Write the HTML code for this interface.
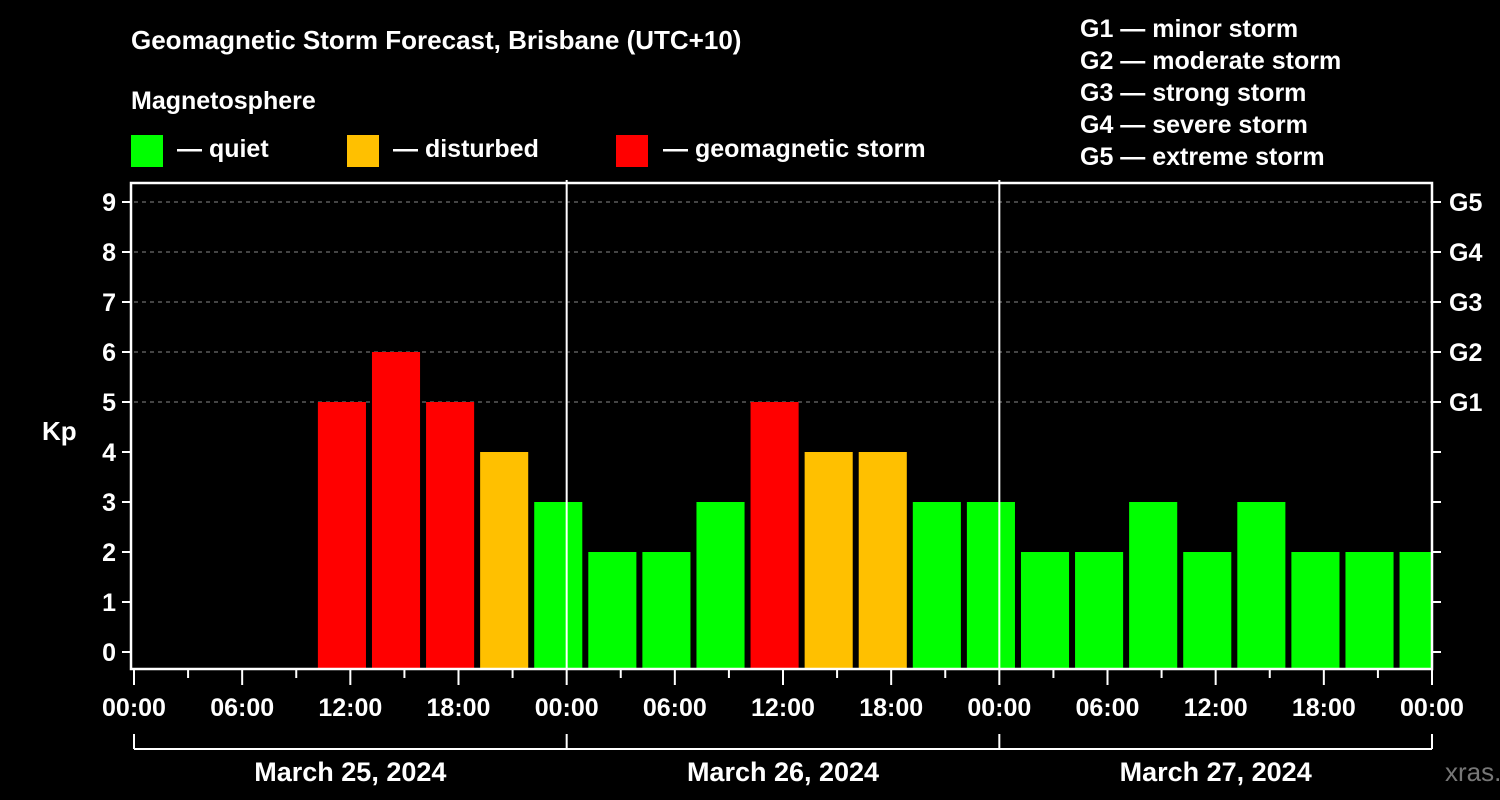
<!DOCTYPE html>
<html><head><meta charset="utf-8"><style>
body{margin:0;background:#000;width:1500px;height:800px;overflow:hidden}
svg{display:block;font-family:"Liberation Sans",Arial,sans-serif;font-weight:bold}
</style></head><body>
<svg id="c" width="1500" height="800" viewBox="0 0 1500 800">
<rect width="1500" height="800" fill="#000"/>
<text x="131" y="49" font-size="26" fill="#fff">Geomagnetic Storm Forecast, Brisbane (UTC+10)</text>
<text x="131" y="109" font-size="25" fill="#fff">Magnetosphere</text>
<g><rect x="131" y="135" width="32" height="32" fill="#00ff00"/><text x="177" y="157" font-size="25" fill="#fff">— quiet</text></g>
<g><rect x="347" y="135" width="32" height="32" fill="#ffc000"/><text x="393" y="157" font-size="25" fill="#fff">— disturbed</text></g>
<g><rect x="616" y="135" width="32" height="32" fill="#ff0000"/><text x="663" y="157" font-size="25" fill="#fff">— geomagnetic storm</text></g>
<g font-size="25" fill="#fff">
<text x="1080" y="37">G1 — minor storm</text>
<text x="1080" y="69">G2 — moderate storm</text>
<text x="1080" y="101">G3 — strong storm</text>
<text x="1080" y="133">G4 — severe storm</text>
<text x="1080" y="165">G5 — extreme storm</text>
</g>
<text x="42" y="440" font-size="26" fill="#fff">Kp</text>
<g id="grid"></g><g id="bars"></g><g id="axes"></g>
<text x="1445" y="781" font-size="26" fill="#777" font-weight="normal">xras.ru</text>
</svg>
<script>
const kpValues=[5,6,5,4,3,2,2,3,5,4,4,3,3,2,2,3,2,3,2,2,2];
const firstBarHour=10.2;
const yTicks=[0,1,2,3,4,5,6,7,8,9];
const gLabels=["G1","G2","G3","G4","G5"];
const xTickLabels=["00:00","06:00","12:00","18:00"];
const dayLabels=["March 25, 2024","March 26, 2024","March 27, 2024"];
const NS="http://www.w3.org/2000/svg";
const X0=134,X1=1432,T=183,B=669,totalH=72;
const xs=h=>X0+h*(X1-X0)/totalH;
const ys=v=>652-v*50;
function mk(p,tag,a){const e=document.createElementNS(NS,tag);for(const k in a)e.setAttribute(k,a[k]);p.appendChild(e);return e;}
const grid=document.getElementById('grid'),bars=document.getElementById('bars'),axes=document.getElementById('axes');
[5,6,7,8,9].forEach(v=>{const l=mk(grid,'line',{x1:X0,x2:X1,y1:ys(v),y2:ys(v),stroke:'#888','stroke-dasharray':'4,4','stroke-width':1});

});
const bw=(X1-X0)/24;
kpValues.forEach((v,i)=>{const h=firstBarHour+3*i;const x=xs(h);const w=Math.min(bw-6,X1-x);
const col=v>=5?'#ff0000':(v>=4?'#ffc000':'#00ff00');
const r=mk(bars,'rect',{x:x,y:ys(v),width:w,height:B-ys(v),fill:col});

});
[24,48].forEach(h=>{const l=mk(axes,'line',{x1:xs(h),x2:xs(h),y1:T-3,y2:B,stroke:'#fff','stroke-width':2});

});
const fr=mk(axes,'rect',{x:131,y:T,width:X1-131,height:B-T,fill:'none',stroke:'#fff','stroke-width':2.5});


yTicks.forEach(v=>{mk(axes,'line',{x1:122,x2:131,y1:ys(v),y2:ys(v),stroke:'#fff','stroke-width':2});
mk(axes,'line',{x1:X1,x2:X1+9,y1:ys(v),y2:ys(v),stroke:'#fff','stroke-width':2});
const t=mk(axes,'text',{x:116,y:ys(v)+9,'font-size':25,fill:'#fff','text-anchor':'end'});t.textContent=v;

});
gLabels.forEach((g,i)=>{const t=mk(axes,'text',{x:1449,y:ys(5+i)+9,'font-size':25,fill:'#fff'});t.textContent=g;

});
for(let h=0;h<=72;h+=3){const major=h%6===0;
mk(axes,'line',{x1:xs(h),x2:xs(h),y1:B,y2:major?685:678,stroke:'#fff','stroke-width':2});
if(major){const t=mk(axes,'text',{x:xs(h),y:716,'font-size':25,fill:'#fff','text-anchor':'middle'});t.textContent=xTickLabels[(h%24)/6];

}}
mk(axes,'line',{x1:xs(0),x2:xs(72),y1:749,y2:749,stroke:'#fff','stroke-width':2});
[0,24,48,72].forEach(h=>mk(axes,'line',{x1:xs(h),x2:xs(h),y1:734,y2:749,stroke:'#fff','stroke-width':2}));
dayLabels.forEach((d,i)=>{const t=mk(axes,'text',{x:xs(12+24*i),y:781,'font-size':27,fill:'#fff','text-anchor':'middle'});t.textContent=d;

});
</script>
</body></html>
